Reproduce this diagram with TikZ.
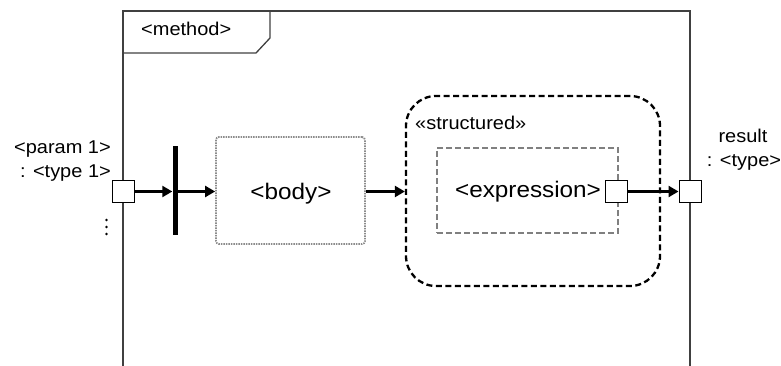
\documentclass[tikz,border=0pt]{standalone}
\usepackage{fontspec}
\setmainfont{Liberation Sans}[FakeStretch=1.08]
\usetikzlibrary{arrows.meta}
\tikzset{
  framel/.style={draw=black!75, line width=1.3pt},
  pin/.style={draw=black, fill=white, line width=1pt, minimum width=22pt, minimum height=21pt, inner sep=0pt},
  flow/.style={line width=2.3pt, -{Triangle[length=10pt,width=11pt]}},
  lbl/.style={inner sep=0pt, font=\fontsize{18.5}{20}\selectfont},
  big/.style={inner sep=0pt, font=\fontsize{22.5}{24}\selectfont},
  bodybox/.style={draw=black!45, line width=1.8pt, dash pattern=on 1.5pt off 1pt, rounded corners=3pt, minimum width=149pt, minimum height=107pt, inner sep=0pt},
  exprbox/.style={draw=black!50, line width=1.8pt, dash pattern=on 6pt off 3pt, minimum width=181pt, minimum height=85pt, inner sep=0pt},
  structbox/.style={draw=black, line width=2.3pt, dash pattern=on 6pt off 3.5pt, rounded corners=30pt, minimum width=254pt, minimum height=190pt, inner sep=0pt},
}
\begin{document}
\begin{tikzpicture}[x=1pt, y=-1pt]
\useasboundingbox (0,0) rectangle (781,366);
% frame
\draw[framel] (123,366) -- (123,11) -- (690,11) -- (690,366);
\draw[framel] (123,53) -- (256,53) -- (270,38) -- (270,11);
\node[lbl, anchor=base west] (method) at (141,36) {<method>};
% boxes
\node[structbox] (struct) at (533,191) {};
\node[lbl, anchor=base west] (stlbl) at (415,130) {«structured»};
\node[exprbox] (expr) at (527.5,190.5) {};
\node[big, anchor=base] (exprtxt) at (528,197) {<expression>};
\node[bodybox] (body) at (290.5,190.5) {};
\node[big, anchor=base] (bodytxt) at (291,199) {<body>};
% fork bar
\node[fill=black, minimum width=5pt, minimum height=89pt, inner sep=0pt] (bar) at (175,190.5) {};
% pins
\node[pin] (pinA) at (123,191.5) {};
\node[pin] (pinE) at (616.5,191.5) {};
\node[pin] (pinR) at (690,191.5) {};
% labels
\node[lbl, anchor=base east] (p1) at (111,154) {<param 1>};
\node[lbl, anchor=base east] (t1) at (111,178) {: <type 1>};
\node[lbl, anchor=base] (res) at (743,143) {result};
\node[lbl, anchor=base] (rtype) at (744,167) {: <type>};
\fill (106.5,220) circle (1.4pt) (106.5,227) circle (1.4pt) (106.5,234) circle (1.4pt);
% flows
\draw[flow] (pinA.east) -- (bar.west |- pinA.east);
\draw[flow] (bar.east |- pinA.east) -- (body.west |- pinA.east);
\draw[flow] (body.east |- pinA.east) -- (struct.west |- pinA.east);
\draw[flow] (pinE.east) -- (pinR.west);
\end{tikzpicture}
\end{document}
